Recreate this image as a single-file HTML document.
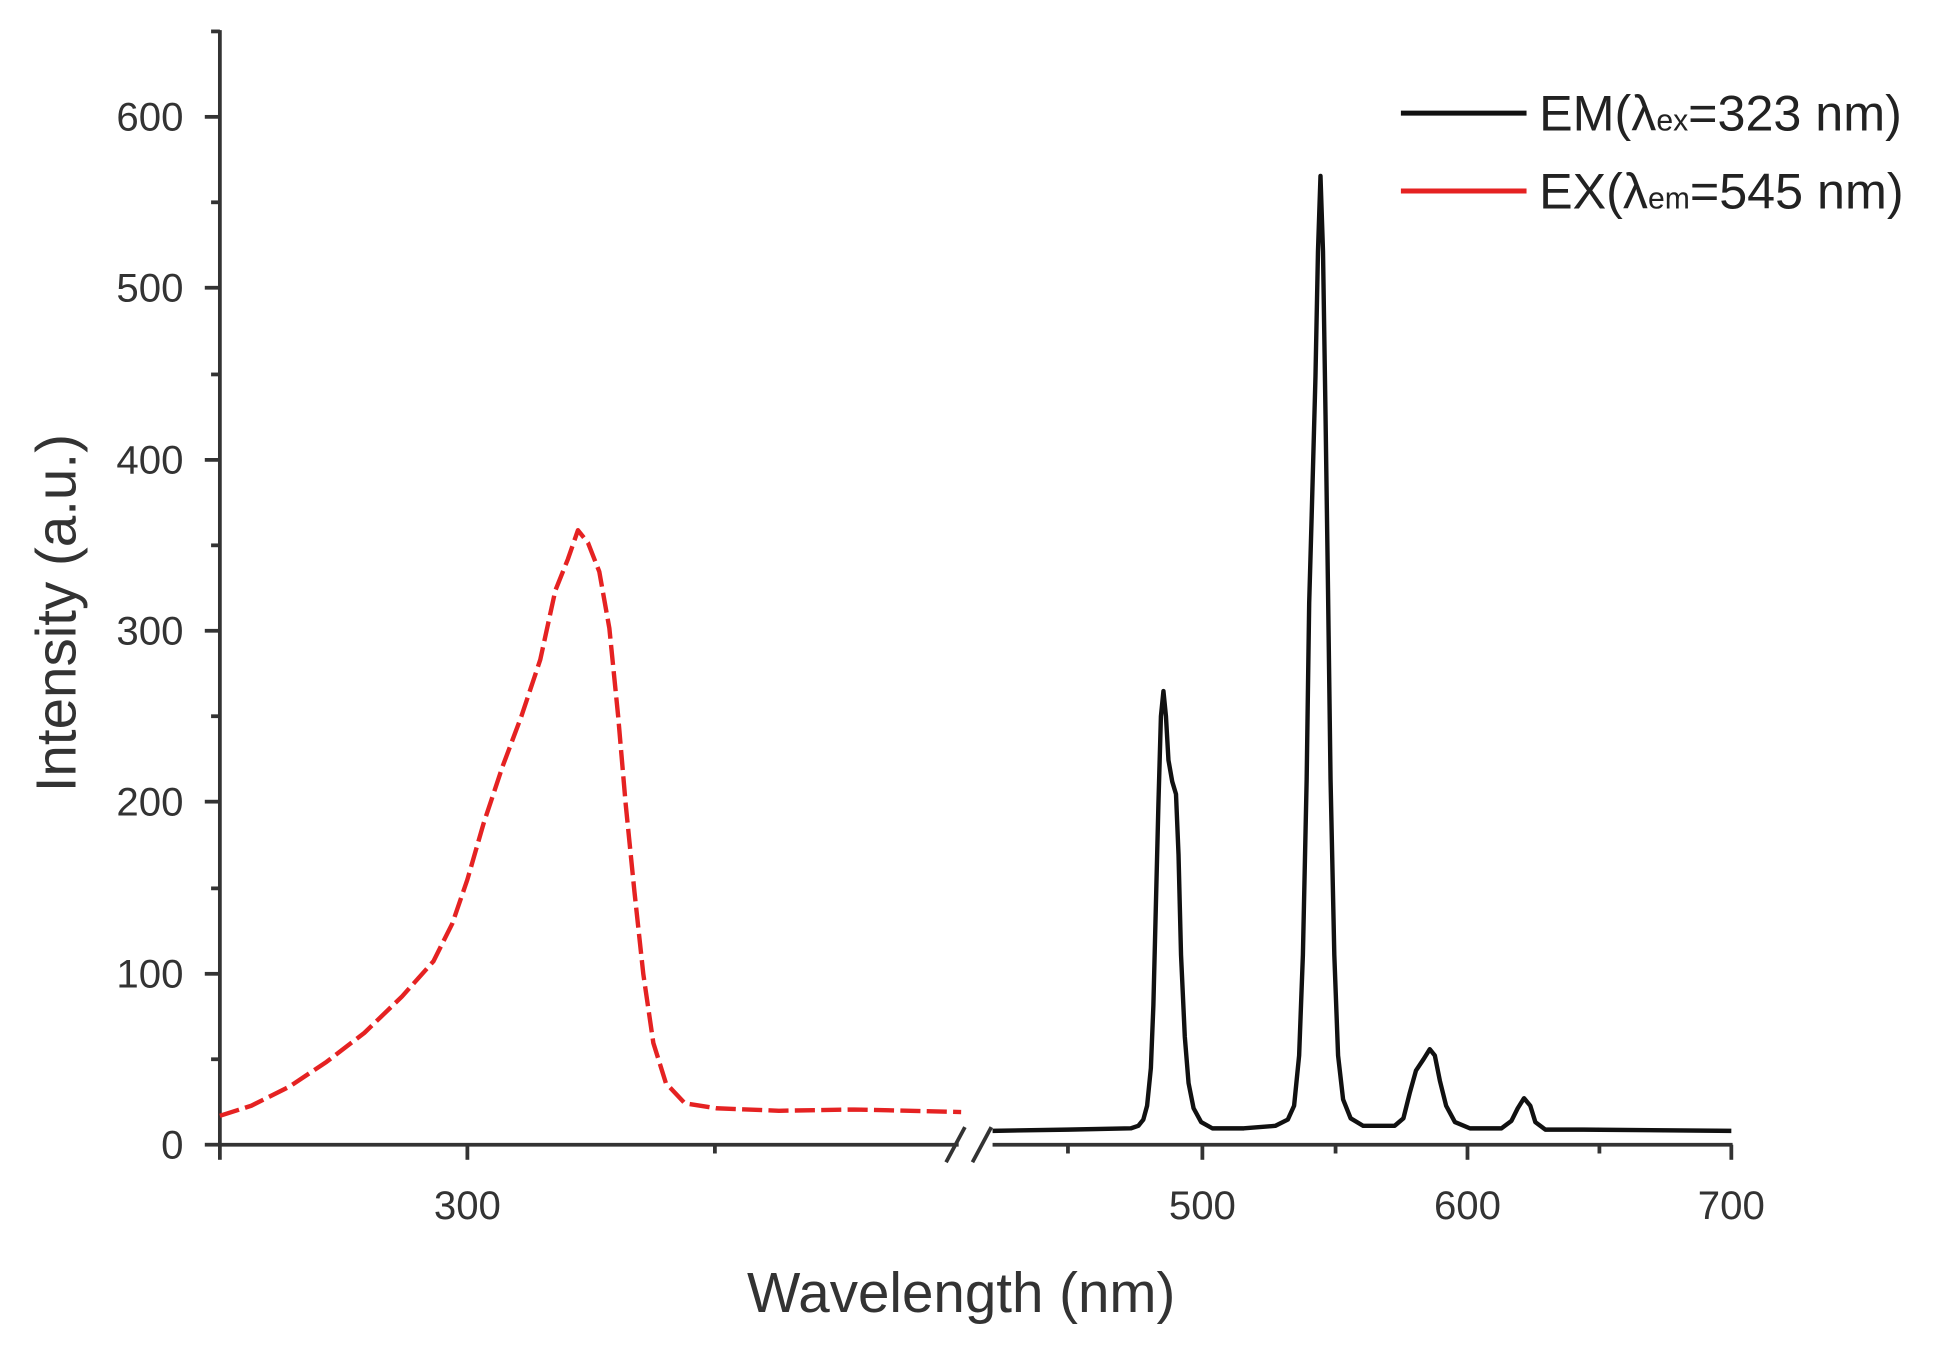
<!DOCTYPE html>
<html><head><style>html,body{margin:0;padding:0;background:#fff}svg{display:block}</style></head>
<body>
<svg width="1960" height="1347" viewBox="0 0 1560 1072" preserveAspectRatio="none" xmlns="http://www.w3.org/2000/svg" font-family="Liberation Sans, sans-serif">
<rect width="1560" height="1072" fill="#fff"/>
<g stroke="#333" stroke-width="3" fill="none">
<line x1="175" y1="24" x2="175" y2="912"/>
<line x1="175" y1="911" x2="763" y2="911"/>
<line x1="790" y1="911" x2="1379" y2="911"/>
<line x1="753" y1="925" x2="768" y2="897"/>
<line x1="774" y1="925" x2="789" y2="897"/>
<line x1="163" y1="911" x2="175" y2="911"/><line x1="163" y1="775" x2="175" y2="775"/><line x1="163" y1="638" x2="175" y2="638"/><line x1="163" y1="502" x2="175" y2="502"/><line x1="163" y1="366" x2="175" y2="366"/><line x1="163" y1="229" x2="175" y2="229"/><line x1="163" y1="93" x2="175" y2="93"/>
<line x1="168" y1="843" x2="175" y2="843"/><line x1="168" y1="707" x2="175" y2="707"/><line x1="168" y1="570" x2="175" y2="570"/><line x1="168" y1="434" x2="175" y2="434"/><line x1="168" y1="298" x2="175" y2="298"/><line x1="168" y1="161" x2="175" y2="161"/><line x1="168" y1="25" x2="175" y2="25"/>
<line x1="175" y1="911" x2="175" y2="923"/><line x1="372" y1="911" x2="372" y2="923"/><line x1="569" y1="911" x2="569" y2="918"/>
<line x1="850" y1="911" x2="850" y2="918"/><line x1="957" y1="911" x2="957" y2="923"/><line x1="1063" y1="911" x2="1063" y2="918"/><line x1="1168" y1="911" x2="1168" y2="923"/><line x1="1273" y1="911" x2="1273" y2="918"/><line x1="1378" y1="911" x2="1378" y2="923"/>
</g>
<g font-size="32" fill="#333" text-anchor="end">
<text x="146" y="922">0</text><text x="146" y="786">100</text><text x="146" y="649">200</text><text x="146" y="513">300</text><text x="146" y="377">400</text><text x="146" y="240">500</text><text x="146" y="104">600</text>
</g>
<g font-size="32" fill="#333" text-anchor="middle">
<text x="372" y="970">300</text><text x="957" y="970">500</text><text x="1168" y="970">600</text><text x="1378" y="970">700</text>
</g>
<text x="765" y="1044" font-size="45" fill="#333" text-anchor="middle">Wavelength (nm)</text>
<text transform="translate(60,488) rotate(-90)" font-size="45" fill="#333" text-anchor="middle">Intensity (a.u.)</text>
<polyline fill="none" stroke="#e52222" stroke-width="3.5" stroke-dasharray="16 5" stroke-linejoin="round" points="175,888 200,880 230,865 260,845 290,822 320,793 345,765 360,735 372,700 385,655 400,610 415,570 430,525 442,470 452,445 460,422 468,432 477,455 485,500 492,570 498,640 505,710 512,775 520,830 530,862 545,878 570,882 620,884 680,883 765,885"/>
<polyline fill="none" stroke="#111" stroke-width="3.5" stroke-linejoin="round" points="790,900 850,899 900,898 906,896 910,891 913,880 916,850 918,800 920,720 922,640 924,570 926,550 928,570 930,605 933,622 936,632 938,680 940,760 943,825 946,862 950,882 956,893 965,898 990,898 1015,896 1025,891 1030,880 1034,840 1037,760 1040,620 1042,480 1044,410 1047,300 1049,200 1051,140 1053,200 1055,330 1057,470 1059,620 1062,760 1065,840 1069,875 1075,890 1085,896 1110,896 1117,890 1122,870 1127,852 1133,843 1138,835 1142,840 1146,860 1151,880 1158,893 1170,898 1195,898 1203,892 1208,882 1213,874 1218,880 1222,893 1230,899 1260,899 1378,900"/>
<line x1="1115" y1="90" x2="1215" y2="90" stroke="#111" stroke-width="4"/>
<line x1="1115" y1="152" x2="1215" y2="152" stroke="#e52222" stroke-width="4"/>
<text x="1225" y="104" font-size="40" fill="#222">EM(λ<tspan font-size="24">ex</tspan>=323 nm)</text>
<text x="1225" y="166" font-size="40" fill="#222">EX(λ<tspan font-size="24">em</tspan>=545 nm)</text>
</svg>
</body></html>
